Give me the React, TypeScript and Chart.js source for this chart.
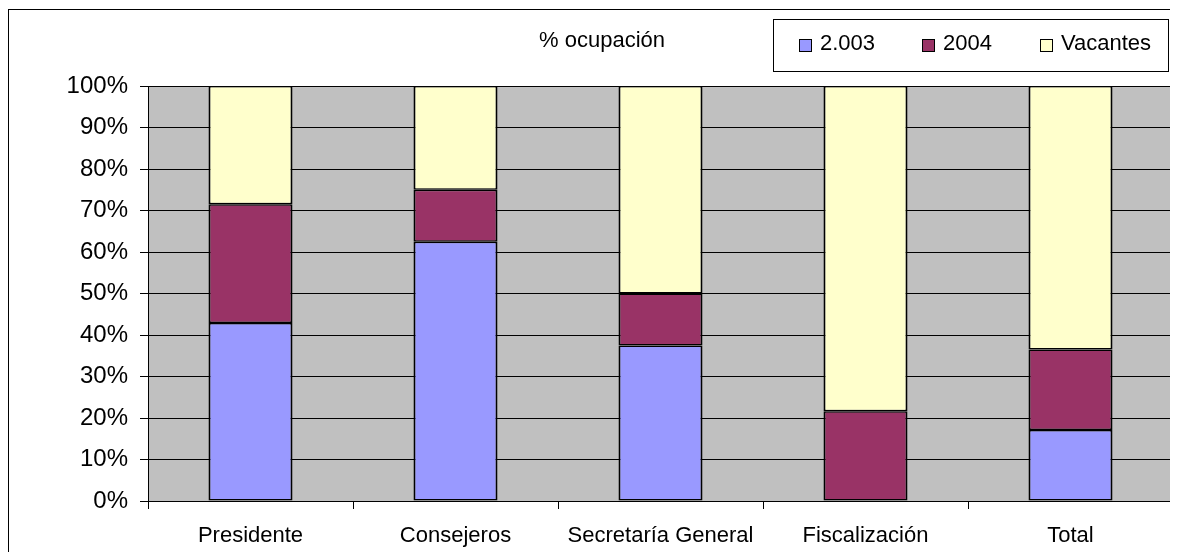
import React, { useEffect, useRef } from "react";
import { Chart, registerables } from "chart.js";

Chart.register(...registerables);

const categories = ["Presidente", "Consejeros", "Secretaría General", "Fiscalización", "Total"];
const seriesNames = ["2.003", "2004", "Vacantes"];
const values2003 = [42.9, 62.5, 37.5, 0, 17.1];
const values2004 = [28.6, 12.5, 12.5, 21.6, 19.4];
const valuesVacantes = [28.5, 25, 50, 78.4, 63.5];
const seriesColors = ["#9999FF", "#993366", "#FFFFCC"];
const yMin = 0;
const yMax = 100;
const yStep = 10;
const chartTitle = "% ocupación";

const FONT = '"Liberation Sans", Arial, Helvetica, sans-serif';

const plotBackground = {
  id: "plotBackground",
  beforeDraw(chart: any) {
    const { ctx, chartArea } = chart;
    ctx.save();
    ctx.fillStyle = "#C0C0C0";
    ctx.fillRect(chartArea.left, chartArea.top, chartArea.right - chartArea.left, chartArea.bottom - chartArea.top);
    ctx.strokeStyle = "#808080";
    ctx.lineWidth = 1;
    ctx.beginPath();
    ctx.moveTo(chartArea.right - 0.5, chartArea.top);
    ctx.lineTo(chartArea.right - 0.5, chartArea.bottom);
    ctx.stroke();
    ctx.restore();
  },
};

const titleAndLegend = {
  id: "titleAndLegend",
  afterDraw(chart: any) {
    const { ctx } = chart;
    ctx.save();
    ctx.font = `22px ${FONT}`;
    ctx.fillStyle = "#000";
    ctx.textAlign = "center";
    ctx.textBaseline = "alphabetic";
    ctx.fillText(chartTitle, 593, 37);

    // legend box
    ctx.fillStyle = "#FFFFFF";
    ctx.fillRect(764, 9, 396, 52);
    ctx.strokeStyle = "#000";
    ctx.lineWidth = 1;
    ctx.strokeRect(764.5, 9.5, 395, 52);

    const squareX = [790, 913, 1031];
    chart.data.datasets.forEach((ds: any, i: number) => {
      const x = squareX[i];
      ctx.fillStyle = ds.backgroundColor;
      ctx.fillRect(x, 29, 12, 12);
      ctx.strokeStyle = "#000";
      ctx.strokeRect(x + 0.5, 29.5, 12, 12);
      ctx.fillStyle = "#000";
      ctx.textAlign = "left";
      ctx.fillText(ds.label, x + 21, 40);
    });
    ctx.restore();
  },
};

export default function App() {
  const canvasRef = useRef<HTMLCanvasElement | null>(null);

  useEffect(() => {
    document.documentElement.style.overflow = "hidden";
    const canvas = canvasRef.current;
    if (!canvas) return;
    const seriesValues = [values2003, values2004, valuesVacantes];
    const chart = new Chart(canvas, {
      type: "bar",
      data: {
        labels: categories,
        datasets: seriesNames.map((name, i) => ({
          label: name,
          data: seriesValues[i],
          backgroundColor: seriesColors[i],
          borderColor: "#000000",
          borderWidth: { left: 2, right: 2, top: 1.5, bottom: 1.5 },
          borderSkipped: false,
          categoryPercentage: 1,
          barPercentage: 0.41,
        })),
      },
      options: {
        responsive: false,
        animation: false,
        devicePixelRatio: 1,
        layout: { padding: { top: 76, right: 5, left: 0, bottom: 0 } },
        plugins: {
          legend: { display: false },
          title: { display: false },
          tooltip: { enabled: false },
        },
        scales: {
          x: {
            stacked: true,
            grid: {
              display: true,
              drawOnChartArea: false,
              drawTicks: true,
              tickLength: 8,
              color: "#000000",
              offset: true,
            },
            border: { display: true, color: "#000000", width: 1 },
            ticks: {
              color: "#000000",
              font: { family: FONT, size: 22 },
              padding: 14,
              maxRotation: 0,
              autoSkip: false,
            },
            afterFit(scale: any) {
              scale.height = 51;
            },
          },
          y: {
            stacked: true,
            min: yMin,
            max: yMax,
            grid: {
              color: "#000000",
              lineWidth: 1,
              drawTicks: true,
              tickLength: 8,
            },
            border: { display: true, color: "#000000", width: 1 },
            ticks: {
              stepSize: yStep,
              color: "#000000",
              font: { family: FONT, size: 24 },
              padding: 12,
              callback: (v: any) => `${v}%`,
            },
            afterFit(scale: any) {
              scale.width = 139;
            },
          },
        },
      },
      plugins: [plotBackground, titleAndLegend],
    });
    return () => chart.destroy();
  }, []);

  return (
    <div
      style={{
        marginTop: 1,
        borderTop: "1px solid #000",
        borderLeft: "1px solid #000",
        width: 1200,
        height: 560,
      }}
    >
      <canvas ref={canvasRef} width={1169} height={542} style={{ display: "block" }} />
    </div>
  );
}
